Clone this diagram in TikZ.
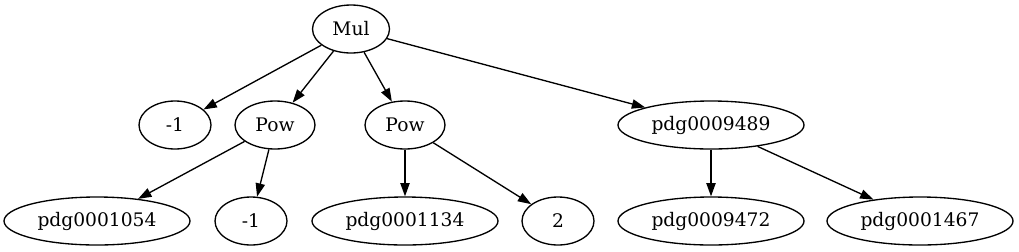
\documentclass[tikz,border=0pt]{standalone}
\usepackage{fontspec}
\setmainfont{DejaVu Serif}
\usetikzlibrary{shapes.geometric,arrows.meta}
\begin{document}
\begin{tikzpicture}[x=0.75pt,y=-0.75pt,
  nd/.style={ellipse,draw,line width=1pt,inner sep=0pt,minimum height=36pt,minimum width=54pt,font=\fontsize{14pt}{16pt}\selectfont},
  wide/.style={nd,minimum width=139.5pt},
  edge/.style={line width=1pt,-{Triangle[length=10pt,width=7pt]}}]
\useasboundingbox (0,0) rectangle (1019,251);
\node[nd,minimum width=57.75pt] (mul) at (351,29) {Mul};
\node[nd] (m1a) at (175,125) {-1};
\node[nd,minimum width=60pt] (powl) at (275,125) {Pow};
\node[nd,minimum width=60pt] (powr) at (405,125) {Pow};
\node[wide] (p9489) at (711,125) {pdg0009489};
\node[wide] (p1054) at (97,221) {pdg0001054};
\node[nd] (m1b) at (251,221) {-1};
\node[wide] (p1134) at (405,221) {pdg0001134};
\node[nd] (two) at (558,221) {2};
\node[wide] (p9472) at (711,221) {pdg0009472};
\node[wide] (p1467) at (920,221) {pdg0001467};
\draw[edge] (mul) -- (m1a);
\draw[edge] (mul) -- (powl);
\draw[edge] (mul) -- (powr);
\draw[edge] (mul) -- (p9489);
\draw[edge] (powl) -- (p1054);
\draw[edge] (powl) -- (m1b);
\draw[edge] (powr) -- (p1134);
\draw[edge] (powr) -- (two);
\draw[edge] (p9489) -- (p9472);
\draw[edge] (p9489) -- (p1467);
\end{tikzpicture}
\end{document}
